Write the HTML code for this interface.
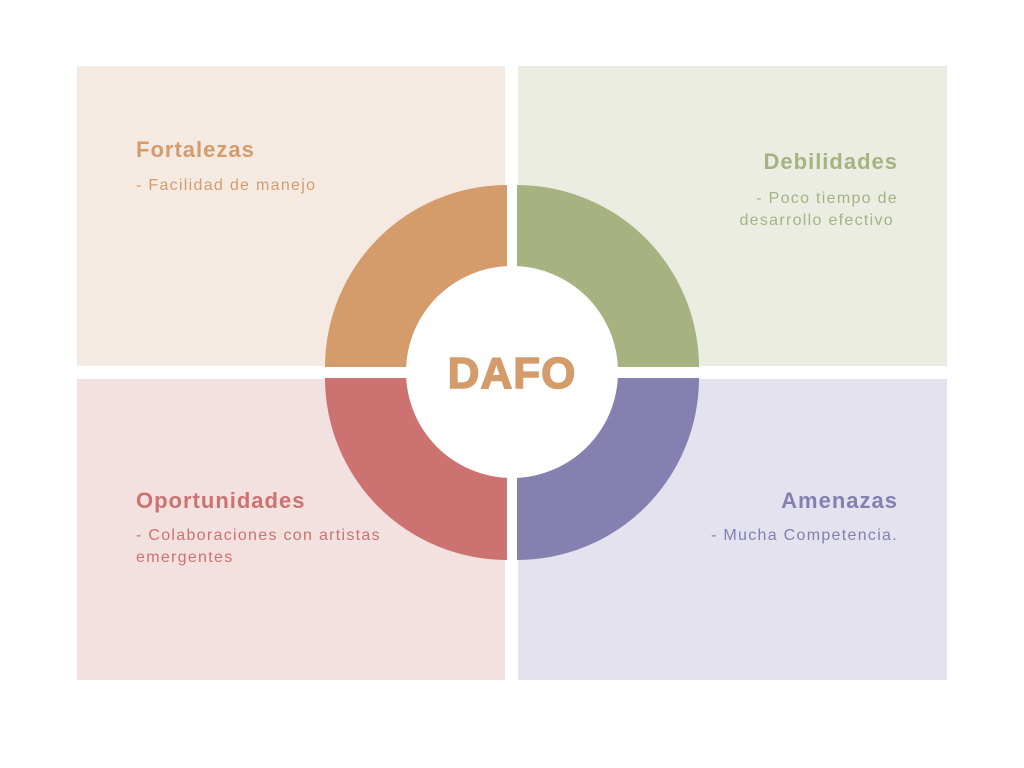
<!DOCTYPE html>
<html><head><meta charset="utf-8"><style>
body{margin:0;width:1024px;height:768px;background:#fff;overflow:hidden;font-family:"Liberation Sans","DejaVu Sans",sans-serif}
svg{position:absolute;left:0;top:0}
</style></head><body>
<svg width="1024" height="768" viewBox="0 0 1024 768">
<rect x="77" y="66" width="428" height="300" fill="#f5eae1"/>
<rect x="518" y="66" width="429" height="300" fill="#ebede3"/>
<rect x="77" y="379" width="428" height="301" fill="#f3e1e0"/>
<rect x="518" y="379" width="429" height="301" fill="#e4e2ee"/>
<path d="M507 367 L325 367 A182 182 0 0 1 507 185 Z" fill="#d49c6a"/>
<path d="M517 367 L517 185 A182 182 0 0 1 699 367 Z" fill="#a6b381"/>
<path d="M507 378 L507 560 A182 182 0 0 1 325 378 Z" fill="#cc7270"/>
<path d="M517 378 L699 378 A182 182 0 0 1 517 560 Z" fill="#8480b0"/>
<circle cx="512" cy="372" r="106" fill="#fff"/>
<text x="512" y="388" text-anchor="middle" font-size="44" font-weight="bold" fill="#d49c6a" stroke="#d49c6a" stroke-width="1.5" letter-spacing="1">DAFO</text>
<g font-size="22" font-weight="bold" letter-spacing="1">
<text x="136" y="157" fill="#d49c6a">Fortalezas</text>
<text x="898" y="169" text-anchor="end" fill="#a6b381">Debilidades</text>
<text x="136" y="508" fill="#cc7270">Oportunidades</text>
<text x="898" y="508" text-anchor="end" fill="#8480b0">Amenazas</text>
</g>
<g font-size="16" letter-spacing="1.3">
<text x="136" y="190" fill="#d49c6a">- Facilidad de manejo</text>
<text x="898" y="203" text-anchor="end" fill="#a6b381">- Poco tiempo de</text>
<text x="894" y="225" text-anchor="end" fill="#a6b381">desarrollo efectivo</text>
<text x="136" y="540" fill="#cc7270">- Colaboraciones con artistas</text>
<text x="136" y="562" fill="#cc7270">emergentes</text>
<text x="898" y="540" text-anchor="end" fill="#8480b0">-  Mucha Competencia.</text>
</g>
</svg>
</body></html>
